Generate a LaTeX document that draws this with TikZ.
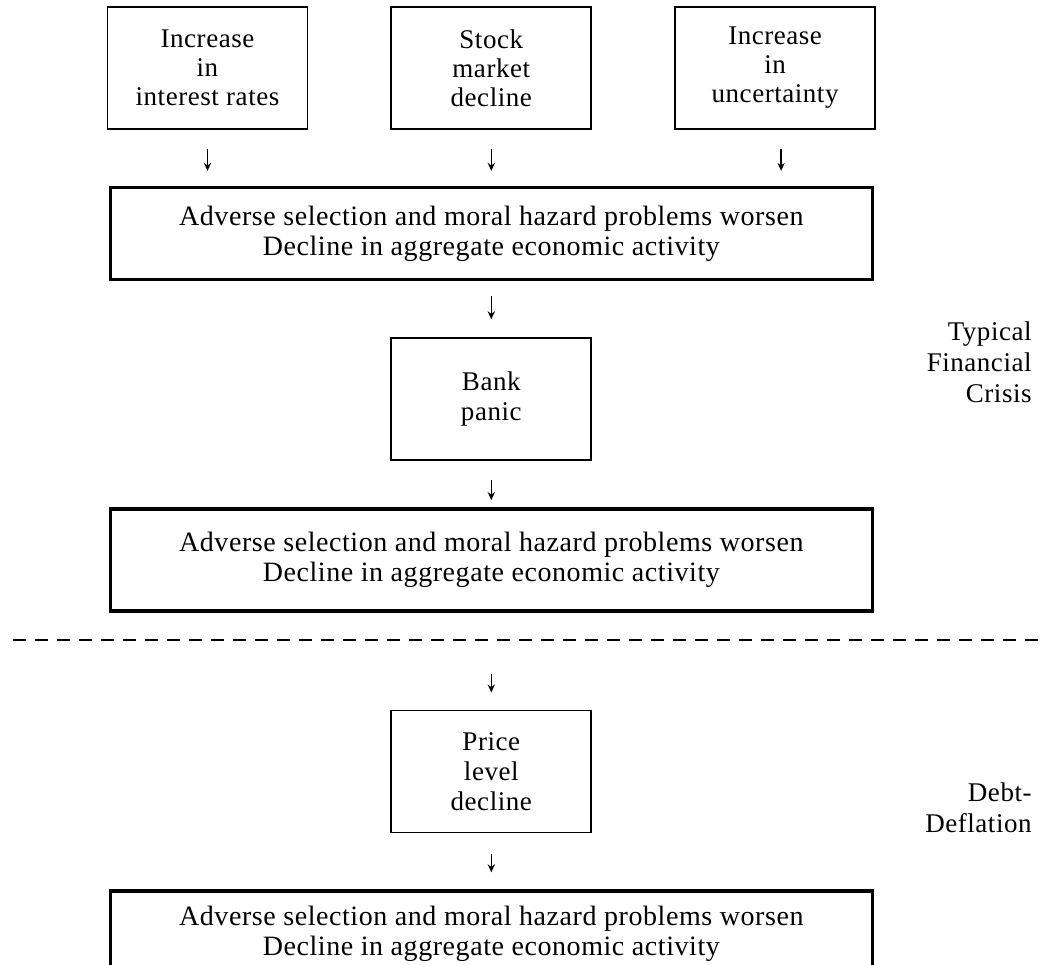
\documentclass[tikz,border=0pt]{standalone}
\usepackage{fontspec}
\setmainfont{Liberation Serif}[LetterSpace=2]
\usepackage{tikz}
\usetikzlibrary{positioning, arrows.meta}
\setlength{\lineskiplimit}{-20pt}

\begin{document}
\begin{tikzpicture}[
        % Define block styles
        cause/.style={draw, line width=0.9pt, rectangle, minimum width=100pt, minimum height=61pt, inner sep=0pt, align=center, font=\fontsize{13.5}{14.5}\selectfont},
        event/.style={draw, line width=0.9pt, rectangle, minimum width=100pt, minimum height=61pt, inner sep=0pt, align=center, font=\fontsize{13.5}{15}\selectfont},
        worsen/.style={draw, line width=1.7pt, rectangle, minimum width=381pt, inner sep=0pt, align=center, font=\fontsize{14}{15}\selectfont},
        phase/.style={inner sep=0pt, align=right, anchor=east, font=\fontsize{13.5}{15.5}\selectfont},
        arrow/.style={draw, line width=0.7pt, -{Stealth[length=4pt, width=3.6pt]}},
        sep/.style={line width=0.9pt, dash pattern=on 6.5pt off 4.5pt}
    ]
    \useasboundingbox (0,0) rectangle (522pt,-482pt);

    % --- Nodes Placement ---
    \node[cause] (rates) at (103.75pt,-34pt) {Increase\\in\\interest rates};
    \node[cause, right=41pt of rates] (stocks) {Stock\\market\\decline};
    \node[cause, right=41pt of stocks] (uncert) {Increase\\in\\uncertainty};

    \node[worsen, minimum height=46pt, below=28pt of stocks] (worsenA) {Adverse selection and moral hazard problems worsen\\Decline in aggregate economic activity};

    \node[event, below=28pt of worsenA] (panic) {Bank\\panic};

    \node[worsen, minimum height=51pt, below=23pt of panic] (worsenB) {Adverse selection and moral hazard problems worsen\\Decline in aggregate economic activity};

    \node[event, below=48.5pt of worsenB] (prices) {Price\\level\\decline};

    \node[worsen, minimum height=43pt, below=28pt of prices] (worsenC) {Adverse selection and moral hazard problems worsen\\Decline in aggregate economic activity};

    % Side labels
    \node[phase] (crisis) at (516pt,-181pt) {Typical\\Financial\\Crisis};
    \node[phase] (debt) at (516pt,-404pt) {Debt-\\Deflation};

    % Dividing line
    \draw[sep] (6.5pt,-320pt) -- (522pt,-320pt);

    % --- Connections / Arrows ---
    \draw[arrow, shorten <=9.5pt, shorten >=7.5pt] (rates.south) -- (rates.south |- worsenA.north);
    \draw[arrow, shorten <=9.5pt, shorten >=7.5pt] (stocks.south) -- (worsenA.north);
    \draw[arrow, shorten <=9.5pt, shorten >=7.5pt] ([xshift=3pt]uncert.south) -- ([xshift=3pt]uncert.south |- worsenA.north);
    \draw[arrow, shorten <=7.5pt, shorten >=9pt] (worsenA) -- (panic);
    \draw[arrow, shorten <=9.5pt, shorten >=3.5pt] (panic) -- (worsenB);
    \draw[arrow, shorten <=30.5pt, shorten >=8.5pt] (worsenB) -- (prices);
    \draw[arrow, shorten <=10.5pt, shorten >=8.5pt] (prices) -- (worsenC);

\end{tikzpicture}
\end{document}
